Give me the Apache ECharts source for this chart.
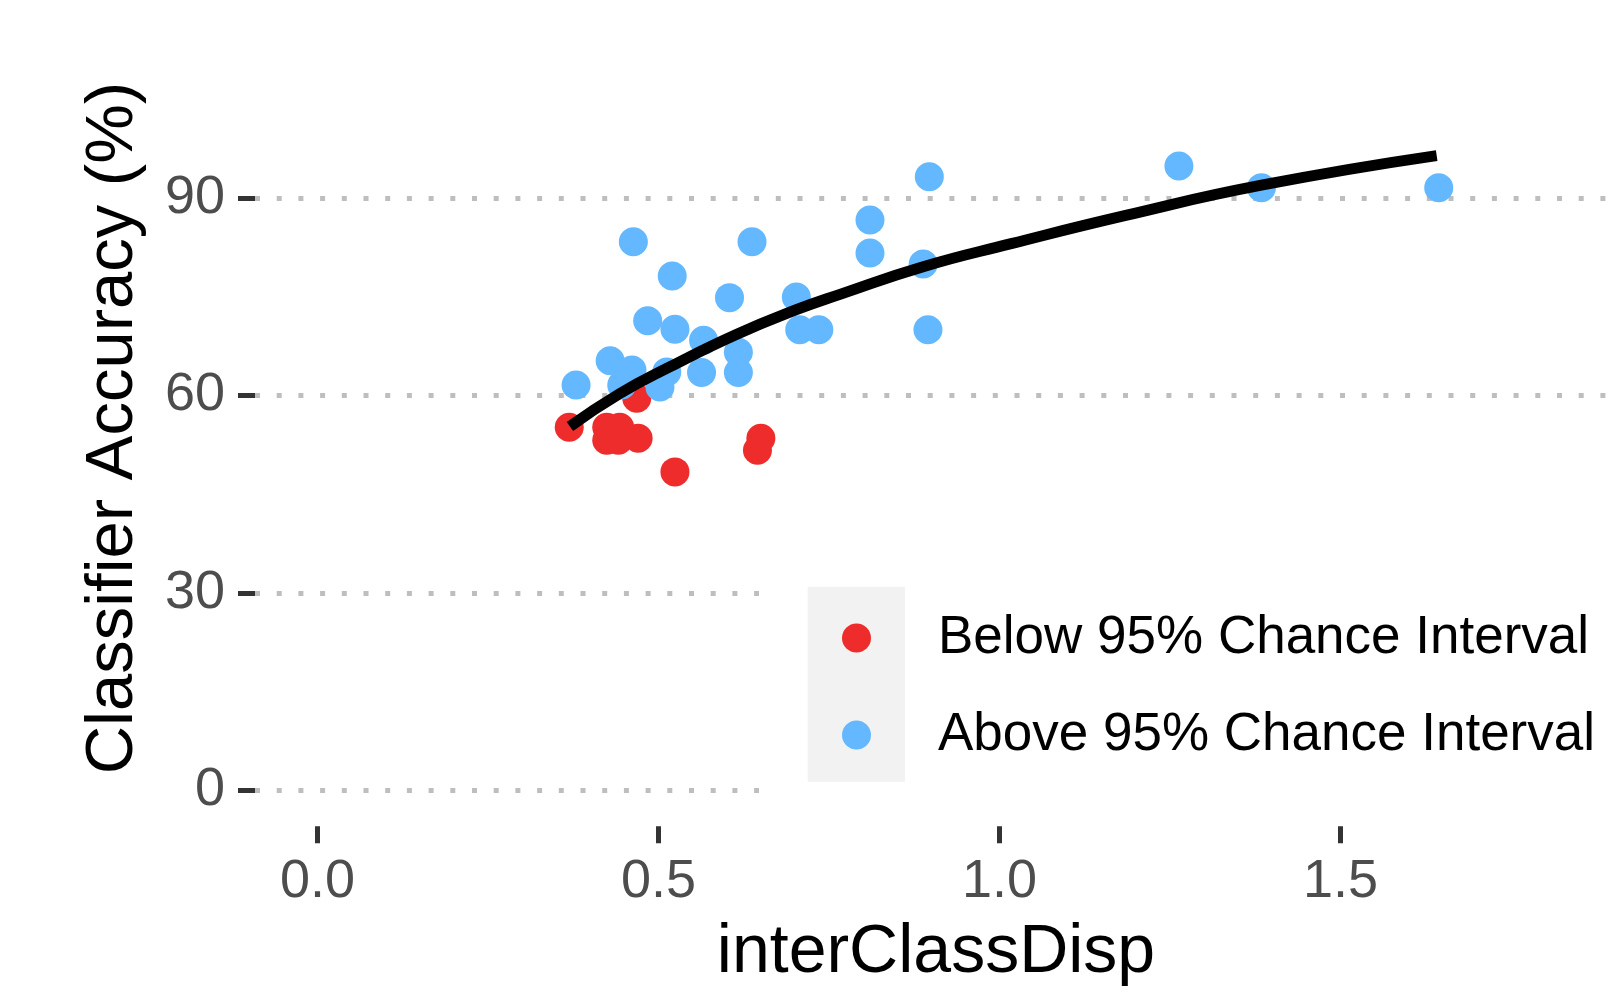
<!DOCTYPE html>
<html>
<head>
<meta charset="utf-8">
<script src="https://cdn.jsdelivr.net/npm/echarts@6/dist/echarts.min.js"></script>
<style>
html,body{margin:0;padding:0;background:#fff;}
#c{width:1617px;height:993px;}
</style>
</head>
<body>
<div id="c"></div>
<script>
// Points: [interClassDisp, accuracy %]
const belowPoints = [
  [0.369,55.2],[0.468,59.6],[0.424,55.2],[0.443,55.2],[0.424,53.2],
  [0.441,53.2],[0.470,53.5],[0.524,48.4],[0.650,53.5],[0.645,51.7]
];
const abovePoints = [
  [0.463,83.4],[0.637,83.4],[0.520,78.2],[0.604,74.9],[0.702,75.0],
  [0.484,71.4],[0.524,70.1],[0.707,70.0],[0.735,70.0],[0.566,68.4],
  [0.617,66.6],[0.429,65.3],[0.461,63.9],[0.512,63.6],[0.563,63.5],
  [0.617,63.5],[0.379,61.6],[0.446,61.6],[0.502,61.3],
  [0.897,93.3],[1.263,94.9],[0.810,86.7],[0.810,81.7],[0.888,80.0],
  [1.384,91.6],[0.895,70.0],[1.644,91.6]
];
// Fitted curve
const curveX = [0.370,0.443,0.517,0.614,0.703,0.766,0.888,1.017,1.185,1.384,1.641];
const curveY = [55.3,60.3,64.4,69.3,73.1,75.4,79.6,83.1,87.4,92.0,96.5];
const xTicks = [0, 0.5, 1.0, 1.5];
const yTicks = [0, 30, 60, 90];
const seriesNames = ['Below 95% Chance Interval', 'Above 95% Chance Interval'];
const xTitle = 'interClassDisp';
const yTitle = 'Classifier Accuracy (%)';

const curve = curveX.map((x, i) => [x, curveY[i]]);
const FONT = 'Liberation Sans, Arial, sans-serif';

const chart = echarts.init(document.getElementById('c'), null, {renderer: 'canvas'});
chart.setOption({
  animation: false,
  backgroundColor: '#ffffff',
  grid: {left: 255, right: 0, top: 30, bottom: 166.7, containLabel: false},
  xAxis: {
    type: 'value', min: -0.0918, max: 1.9054,
    axisLine: {show: false, onZero: false},
    splitLine: {show: false},
    axisTick: {show: true, length: 17, customValues: xTicks, lineStyle: {color: '#333333', width: 5}},
    axisLabel: {customValues: xTicks, formatter: v => v.toFixed(1), fontSize: 54, color: '#4D4D4D', fontFamily: FONT, margin: 29},
    name: xTitle, nameLocation: 'middle', nameGap: 93,
    nameTextStyle: {fontSize: 68, color: '#000000', fontFamily: FONT}
  },
  yAxis: {
    type: 'value', min: -5.5, max: 115.6,
    axisLine: {show: false, onZero: false},
    axisTick: {show: true, length: 17, customValues: yTicks, lineStyle: {color: '#333333', width: 5}},
    splitLine: {show: true, lineStyle: {color: '#BEBEBE', width: 5, type: [5, 16.7]}},
    axisLabel: {customValues: yTicks, fontSize: 54, color: '#4D4D4D', fontFamily: FONT, margin: 30},
    name: yTitle, nameLocation: 'middle', nameGap: 108,
    nameTextStyle: {fontSize: 67, color: '#000000', fontFamily: FONT}
  },
  graphic: [
    {type: 'rect', z: 1, shape: {x: 759, y: 560, width: 858, height: 255}, style: {fill: '#ffffff'}},
    {type: 'rect', z: 1, shape: {x: 807.7, y: 586.7, width: 97.3, height: 195}, style: {fill: '#F2F2F2'}}
  ],
  legend: {
    z: 10,
    orient: 'vertical', left: 837, top: 603, padding: 5,
    itemWidth: 29, itemHeight: 29, itemGap: 37,
    icon: 'circle',
    data: seriesNames,
    formatter: name => '{t|' + name + '}',
    textStyle: {
      fontSize: 53, color: '#000000', fontFamily: FONT, lineHeight: 60,
      rich: {t: {fontSize: 53, color: '#000000', fontFamily: FONT, lineHeight: 60, padding: [0, 0, 0, 62]}}
    }
  },
  series: [
    {name: seriesNames[0], type: 'scatter', data: belowPoints, symbolSize: 29, itemStyle: {color: '#EE2C2C', opacity: 1}, z: 2},
    {name: seriesNames[1], type: 'scatter', data: abovePoints, symbolSize: 29, itemStyle: {color: '#63B8FF', opacity: 1}, z: 2},
    {name: 'fit', type: 'line', data: curve, smooth: true, showSymbol: false, lineStyle: {color: '#000000', width: 11, cap: 'butt'}, z: 3, silent: true}
  ]
});
</script>
</body>
</html>
